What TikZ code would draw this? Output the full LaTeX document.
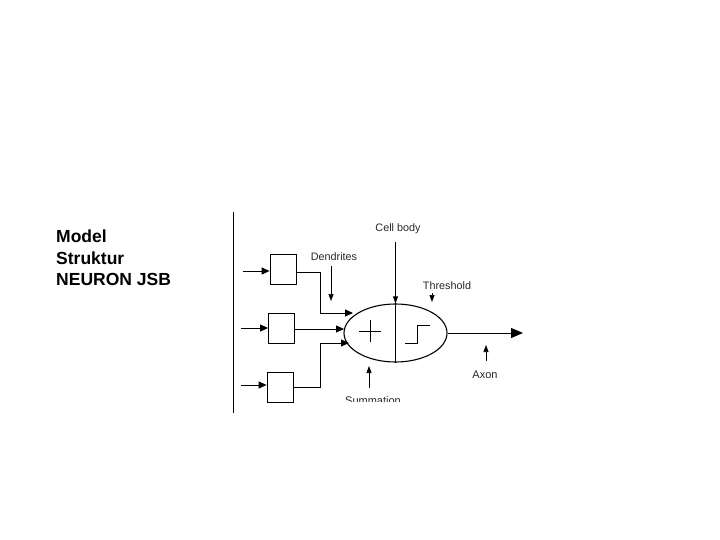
\documentclass[tikz,border=0pt]{standalone}
\usepackage{fontspec}
\setmainfont{Liberation Sans}
\usetikzlibrary{arrows.meta,shapes.geometric,calc}
\begin{document}
\begin{tikzpicture}[x=1pt,y=-1pt,
  wire/.style={line width=1pt},
  tip/.style={wire,-{Triangle[length=8pt,width=7pt]}},
  bigtip/.style={wire,-{Triangle[length=12pt,width=10pt]}},
  ptr/.style={line width=0.7pt,-{Triangle[length=7pt,width=5pt]}},
  inbox/.style={draw,line width=0.8pt,minimum width=26pt,minimum height=30pt,inner sep=0pt},
  lbl/.style={font=\fontsize{10.8}{12}\selectfont,inner sep=0pt,text=black!85}]
\useasboundingbox (0,0) rectangle (720,540);
\node[anchor=north west,align=left,inner sep=0pt,font=\bfseries\fontsize{17.5}{21.5}\selectfont] (title) at (56,230) {Model\\Struktur\\NEURON JSB};
\coordinate (vt) at (233,212); \coordinate (vb) at (233,413);
\draw[line width=0.8pt] (vt) -- (vb);
% input boxes
\node[inbox] (b1) at (283,269) {};
\node[inbox] (b2) at (281.5,328) {};
\node[inbox] (b3) at (280,387.5) {};
\coordinate (i1) at (243,271); \coordinate (i2) at (241,328); \coordinate (i3) at (241,385);
\draw[tip] (i1) -- (i1 -| b1.west);
\draw[tip] (i2) -- (i2 -| b2.west);
\draw[tip] (i3) -- (i3 -| b3.west);
% cell body
\node[draw,ellipse,line width=1.1pt,minimum width=103pt,minimum height=58pt,inner sep=0pt] (cell) at (395.5,333) {};
\draw[line width=0.8pt] (cell.north) -- (cell.south);
% plus
\coordinate (plus) at (370,331);
\draw[line width=0.6pt] ($(plus)+(-11,0)$) -- ($(plus)+(11,0)$);
\draw[line width=0.6pt] ($(plus)+(0,-11)$) -- ($(plus)+(0,11)$);
% step
\coordinate (st) at (405,343);
\draw[line width=0.8pt] (st) -- ++(12,0) -- ++(0,-18) -- ++(13,0);
% dendrite wires
\coordinate (d1a) at (b1.east |- 0,272); \coordinate (d1b) at (320,272); \coordinate (d1c) at (320,313); \coordinate (d1d) at (353,313);
\draw[tip] (d1a) -- (d1b) -- (d1c) -- (d1d);
\coordinate (d2a) at (b2.east |- 0,329); \coordinate (d2b) at (344,329);
\draw[tip] (d2a) -- (d2b);
\coordinate (d3a) at (b3.east |- 0,387); \coordinate (d3b) at (320,387); \coordinate (d3c) at (320,343); \coordinate (d3d) at (349,343);
\draw[tip] (d3a) -- (d3b) -- (d3c) -- (d3d);
% axon
\coordinate (ax) at (523,333);
\draw[bigtip] (cell.east) -- (ax);
% labels
\node[lbl] (lcell) at (398,229) {Cell body};
\coordinate (pc) at (cell.north |- 0,242);
\draw[ptr] (pc) -- (cell.north);
\node[lbl] (lden) at (334,257) {Dendrites};
\coordinate (pd1) at (331,266); \coordinate (pd2) at (331,301);
\draw[ptr] (pd1) -- (pd2);
\node[lbl] (lthr) at (447,286) {Threshold};
\coordinate (pt1) at (432,293); \coordinate (pt2) at (432,302);
\draw[ptr] (pt1) -- (pt2);
\node[lbl,font=\fontsize{11}{12}\selectfont] (lax) at (485,375) {Axon};
\coordinate (pa1) at (486,361); \coordinate (pa2) at (486,345);
\draw[ptr] (pa1) -- (pa2);
\coordinate (ps1) at (369,388); \coordinate (ps2) at (369,366);
\draw[ptr] (ps1) -- (ps2);
\begin{scope}
\clip (233,212) rectangle (528,401.5);
\node[lbl,anchor=base,font=\fontsize{11}{12}\selectfont] (lsum) at (373,404) {Summation};
\end{scope}
\end{tikzpicture}
\end{document}
